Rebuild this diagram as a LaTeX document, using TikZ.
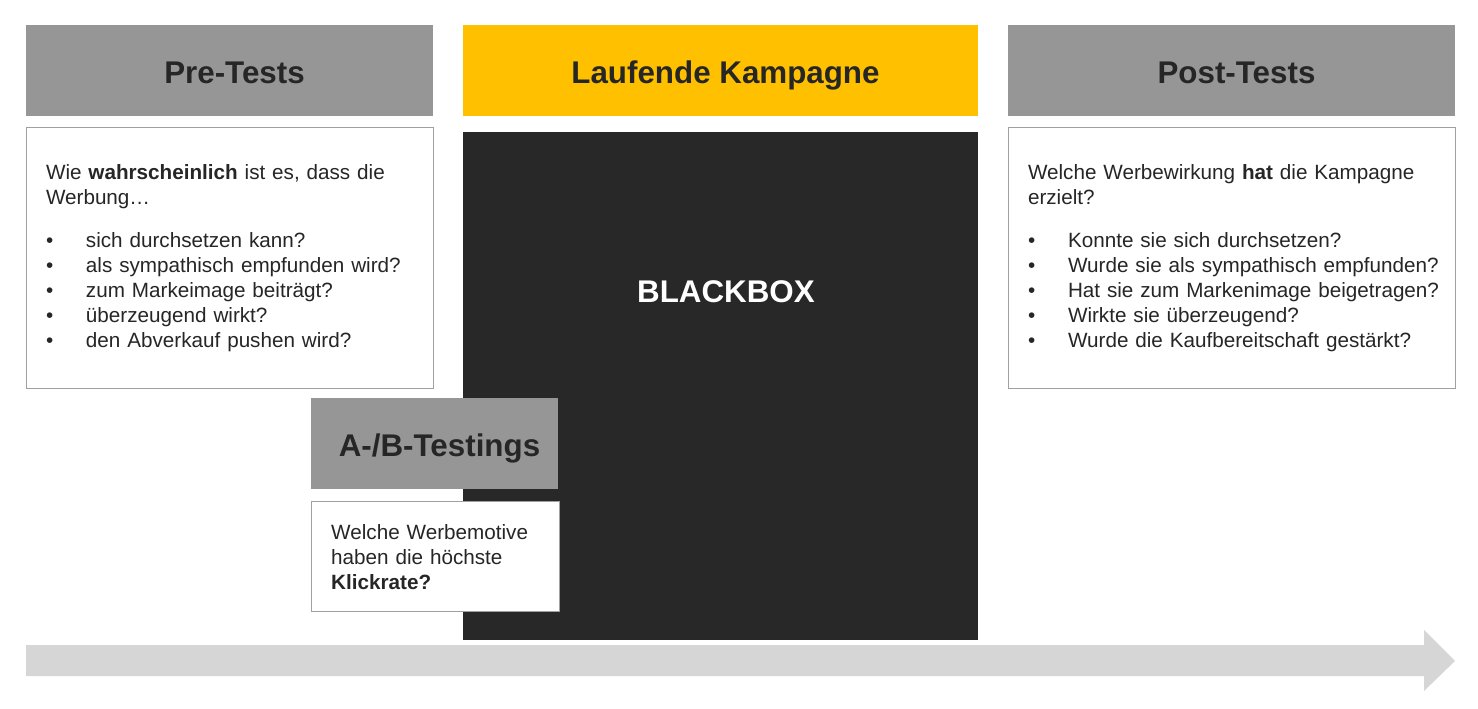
\documentclass[tikz,border=0pt]{standalone}
\usepackage{fontspec}
\setmainfont{Liberation Sans}
\usetikzlibrary{positioning}

\definecolor{headgray}{HTML}{969696}
\definecolor{campyellow}{HTML}{FFC000}
\definecolor{boxdark}{HTML}{282828}
\definecolor{txtdark}{HTML}{262626}
\definecolor{linegray}{HTML}{A0A0A0}
\definecolor{timegray}{HTML}{D6D6D6}

\newcommand{\headfont}{\bfseries\fontsize{23.5}{27}\selectfont}
\newcommand{\bodyfont}{\fontsize{15.5}{18.75}\selectfont}
\newcommand{\qitem}[1]{\mbox{\makebox[30pt][l]{\textbullet}#1}}

\begin{document}
\begin{tikzpicture}[
			x=0.75pt, y=-0.75pt,
			head/.style={
				fill=headgray,
				text=txtdark,
				font=\headfont,
				minimum height=68.25pt,
				text height=19.9pt,
				text depth=0pt,
				inner sep=0pt,
				execute at begin node=\hspace*{7.5pt}
			},
			question/.style={
				draw=linegray,
				line width=0.75pt,
				fill=white,
				text=txtdark,
				font=\bodyfont,
				align=left,
				inner xsep=15pt,
				inner ysep=0pt,
				minimum height=195.75pt
			},
			node distance=8.25pt
			]
			
			\useasboundingbox (0,0) rectangle (1478,709);
			
			% -------------------------------
			% KOPFZEILE
			% -------------------------------
			\node[head, minimum width=305.25pt] (pre) at (229.5,70.5) {Pre-Tests};
			\node[head, fill=campyellow, minimum width=386.25pt] (lauf) at (720.5,70.5) {Laufende Kampagne};
			\node[head, minimum width=335.25pt] (post) at (1231.5,70.5) {Post-Tests};
			
			% -------------------------------
			% PRE-TESTS
			% -------------------------------
			\node[question, text width=275.25pt, below=of pre] (preq) {
				Wie \textbf{wahrscheinlich} ist es, dass die\\
				Werbung…\\[13.5pt]
				\qitem{sich durchsetzen kann?}\\
				\qitem{als sympathisch empfunden wird?}\\
				\qitem{zum Markeimage beiträgt?}\\
				\qitem{überzeugend wirkt?}\\
				\qitem{den Abverkauf pushen wird?}
			};
			
			% -------------------------------
			% BLACKBOX
			% -------------------------------
			\node[fill=boxdark, minimum width=386.25pt, minimum height=381pt, inner sep=0pt, below=11.25pt of lauf] (bbox) {};
			\node[font=\headfont, text=white] (bblabel) at (726,292) {BLACKBOX};
			
			% -------------------------------
			% POST-TESTS
			% -------------------------------
			\node[question, text width=305.25pt, below=of post] (postq) {
				Welche Werbewirkung \textbf{hat} die Kampagne\\
				erzielt?\\[13.5pt]
				\qitem{Konnte sie sich durchsetzen?}\\
				\qitem{Wurde sie als sympathisch empfunden?}\\
				\qitem{Hat sie zum Markenimage beigetragen?}\\
				\qitem{Wirkte sie überzeugend?}\\
				\qitem{Wurde die Kaufbereitschaft gestärkt?}
			};
			
			% -------------------------------
			% A-/B-TESTINGS
			% -------------------------------
			\node[head, minimum width=185.25pt] (ab) at (434.5,443.5) {A-/B-Testings};
			\node[question, text width=156pt, minimum height=82.5pt, below right=9pt and 0pt of ab.south west] (abq) {
				Welche Werbemotive\\
				haben die höchste\\
				\textbf{Klickrate?}
			};
			
			% -------------------------------
			% ZEITACHSE
			% -------------------------------
			\fill[timegray] (26,645) -- (1424,645) -- (1424,630) -- (1455,661)
				-- (1424,691) -- (1424,676) -- (26,676) -- cycle;
			
		\end{tikzpicture}
\end{document}
